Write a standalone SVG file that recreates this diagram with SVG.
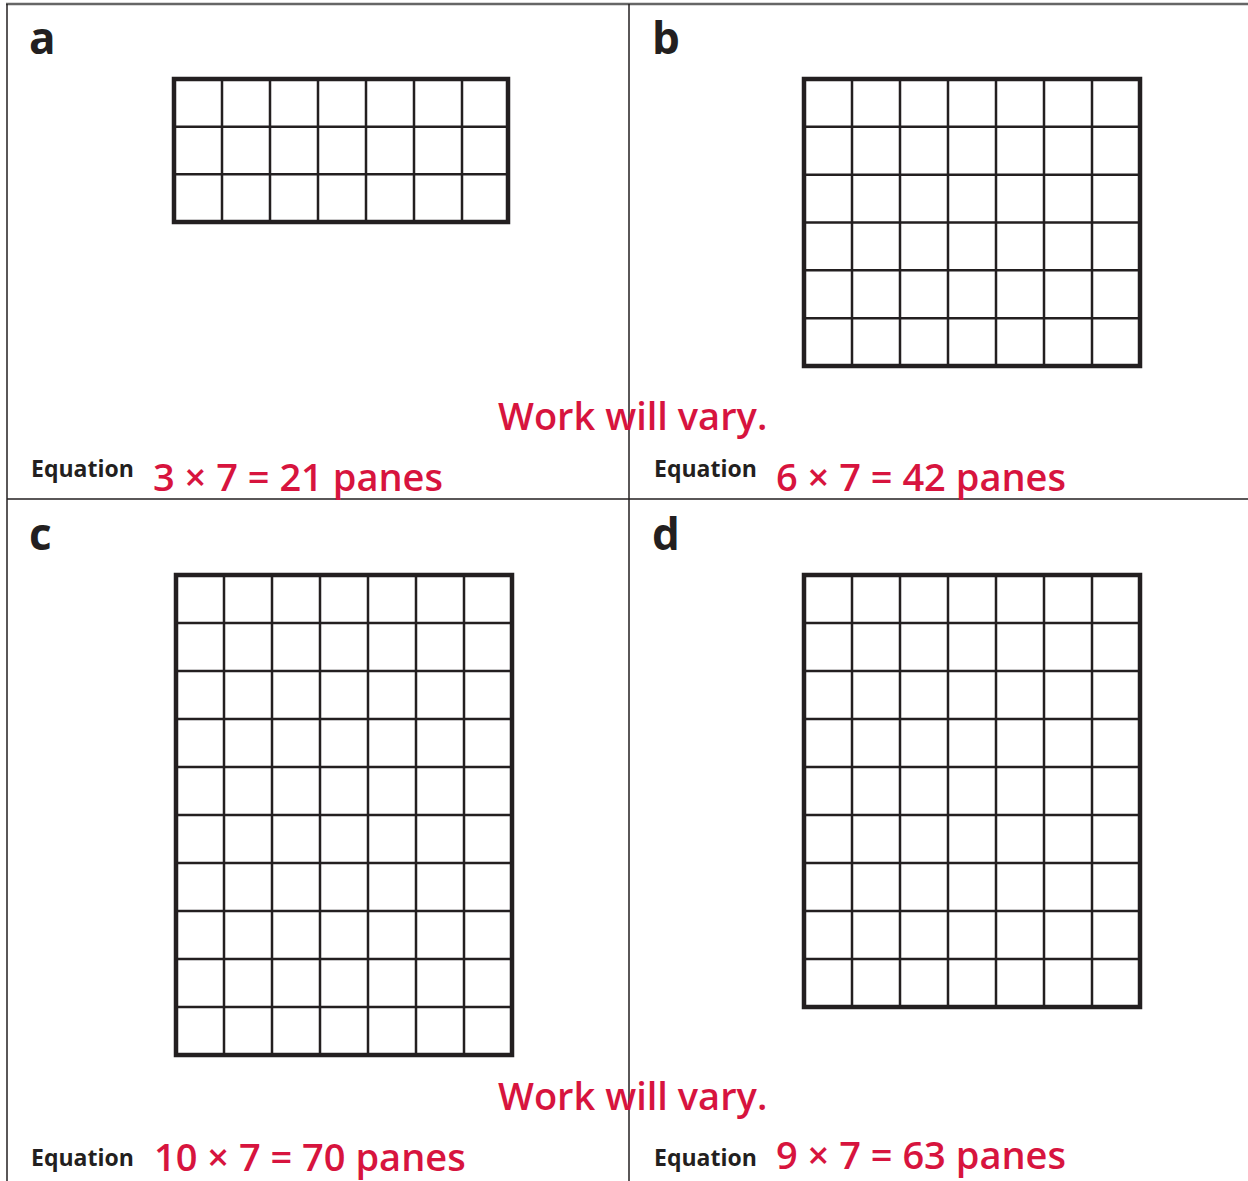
<svg xmlns="http://www.w3.org/2000/svg" width="1248" height="1181" viewBox="0 0 1248 1181">
<style>
.frame{stroke:#231f20;stroke-width:1.5;fill:none}
.outer{fill:none;stroke:#231f20;stroke-width:4.5}
.inner{stroke:#231f20;stroke-width:2.5;fill:none}
.lbl{font-family:"Open Sans","Liberation Sans",sans-serif;font-weight:700;font-size:44px;fill:#231f20}
.eq{font-family:"Open Sans","Liberation Sans",sans-serif;font-weight:700;font-size:23px;fill:#231f20}
.red{font-family:"Open Sans","Liberation Sans",sans-serif;font-weight:600;font-size:38px;fill:#d7143e}
</style>
<rect width="1248" height="1181" fill="#fff"/>
<g id="frame">
<line x1="6" y1="4" x2="1248" y2="4" stroke="#666" stroke-width="2.5"/>
<line class="frame" x1="7" y1="4" x2="7" y2="1181"/>
<line class="frame" x1="629" y1="4" x2="629" y2="1181"/>
<line class="frame" x1="7" y1="499" x2="1248" y2="499" stroke-width="2"/>
</g>
<g id="panel-a">
<text class="lbl" x="29" y="54">a</text>
<rect class="outer" x="174" y="79" width="334" height="143"/>
<path class="inner" d="M222 79V222M270 79V222M318 79V222M366 79V222M414 79V222M462 79V222M174 126.7H508M174 174.3H508"/>
<text class="eq" x="31" y="477">Equation</text>
<text class="red" x="153" y="491">3 × 7 = 21 panes</text>
</g>
<g id="panel-b">
<text class="lbl" x="652" y="54">b</text>
<rect class="outer" x="804" y="79" width="336" height="287"/>
<path class="inner" d="M852 79V366M900 79V366M948 79V366M996 79V366M1044 79V366M1092 79V366M804 126.8H1140M804 174.7H1140M804 222.5H1140M804 270.3H1140M804 318.2H1140"/>
<text class="eq" x="654" y="477">Equation</text>
<text class="red" x="776" y="491">6 × 7 = 42 panes</text>
</g>
<text class="red" x="498" y="430">Work will vary.</text>
<g id="panel-c">
<text class="lbl" x="29" y="550">c</text>
<rect class="outer" x="176" y="575" width="336" height="480"/>
<path class="inner" d="M224 575V1055M272 575V1055M320 575V1055M368 575V1055M416 575V1055M464 575V1055M176 623H512M176 671H512M176 719H512M176 767H512M176 815H512M176 863H512M176 911H512M176 959H512M176 1007H512"/>
<text class="eq" x="31" y="1166">Equation</text>
<text class="red" x="154" y="1171">10 × 7 = 70 panes</text>
</g>
<g id="panel-d">
<text class="lbl" x="652" y="550">d</text>
<rect class="outer" x="804" y="575" width="336" height="432"/>
<path class="inner" d="M852 575V1007M900 575V1007M948 575V1007M996 575V1007M1044 575V1007M1092 575V1007M804 623H1140M804 671H1140M804 719H1140M804 767H1140M804 815H1140M804 863H1140M804 911H1140M804 959H1140"/>
<text class="eq" x="654" y="1166">Equation</text>
<text class="red" x="776" y="1169">9 × 7 = 63 panes</text>
</g>
<text class="red" x="498" y="1110">Work will vary.</text>
</svg>
